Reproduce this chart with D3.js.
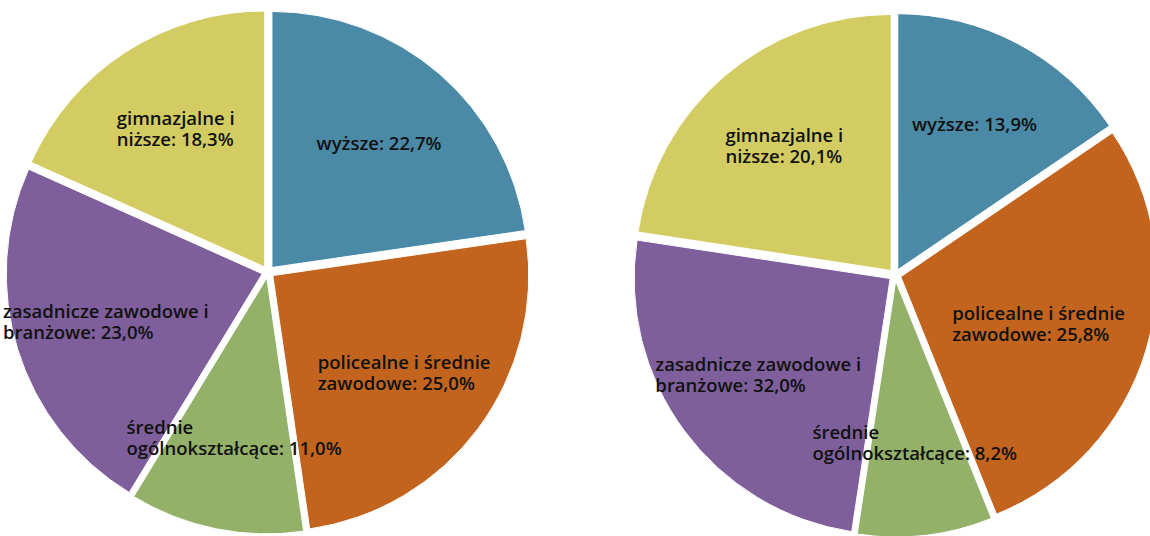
<!DOCTYPE html>
<html>
<head>
<meta charset="utf-8">
<script src="https://cdn.jsdelivr.net/npm/d3@7"></script>
<style>
  body { margin: 0; background: #fff; }
  text { font-family: "Open Sans", sans-serif; font-size: 18.5px; font-weight: 600; fill: #111; }
</style>
</head>
<body>
<div id="chart-area"></div>
<script>
// Education levels (same order in both pies, clockwise from 12 o'clock)
var categories = ["wyższe", "policealne i średnie zawodowe", "średnie ogólnokształcące",
                  "zasadnicze zawodowe i branżowe", "gimnazjalne i niższe"];
// how each label is wrapped in the picture
var labelLines = [
    ["wyższe"],
    ["policealne i średnie", "zawodowe"],
    ["średnie", "ogólnokształcące"],
    ["zasadnicze zawodowe i", "branżowe"],
    ["gimnazjalne i", "niższe"]
];
// left pie: labels and slices agree
var valuesLeft  = [22.7, 25.0, 11.0, 23.0, 18.3];
// right pie: printed label values
var valuesRight = [13.9, 25.8, 8.2, 32.0, 20.1];
// right pie: slice sizes as actually drawn in the picture (they differ from its labels)
var slicesRight = [15.5, 28.4, 8.5, 25.0, 22.6];
var colors = ["#4b8aa6", "#c3641e", "#94b169", "#7e5f9b", "#d3cc62"];

var width = 1150, height = 536;
var radius = 256,
    explode = 6;

var svg = d3.select("#chart-area").append("svg")
    .attr("width", width)
    .attr("height", height);

var pie = d3.pie().sort(null).value(function(d) { return d.share; });
var arc = d3.arc().innerRadius(0).outerRadius(radius);
var labelArc = d3.arc().innerRadius(radius * 0.64).outerRadius(radius * 0.64);
var color = d3.scaleOrdinal().domain(categories).range(colors);

var fmt = function(v) { return d3.format(".1f")(v).replace(".", ",") + "%"; };

function shift(d) {
    var a = (d.startAngle + d.endAngle) / 2;
    return [explode * Math.sin(a), -explode * Math.cos(a)];
}

function drawPie(values, shares, cx, cy) {
    var data = categories.map(function(c, i) {
        return { name: c, lines: labelLines[i], value: values[i], share: shares[i] };
    });
    var arcs = pie(data);
    var g = svg.append("g")
        .attr("transform", "translate(" + cx + "," + cy + ")");

    g.selectAll(".slice")
        .data(arcs)
        .enter().append("path")
        .attr("class", "slice")
        .attr("transform", function(d) { return "translate(" + shift(d) + ")"; })
        .attr("d", arc)
        .attr("fill", function(d) { return color(d.data.name); })
        .attr("stroke", "#fff")
        .attr("stroke-width", 1);

    // labels on top: block centred on the centroid, lines left aligned
    var labels = g.append("g").attr("class", "labels");
    arcs.forEach(function(d) {
        var c = labelArc.centroid(d), s = shift(d);
        var lines = d.data.lines.slice();
        lines[lines.length - 1] += ": " + fmt(d.data.value);
        var t = labels.append("text");
        lines.forEach(function(l, i) {
            t.append("tspan").attr("x", 0).attr("dy", i === 0 ? 0 : 21).text(l);
        });
        var w = t.node().getBBox().width;
        var blockH = 21 * (lines.length - 1);
        var x = Math.min(c[0] + s[0] - w / 2, width - cx - w - 25);
        t.attr("transform", "translate(" + x + "," + (c[1] + s[1] - blockH / 2 + 6) + ")");
    });
}

drawPie(valuesLeft, valuesLeft, 268, 272);
drawPie(valuesRight, slicesRight, 895, 275);
</script>
</body>
</html>
